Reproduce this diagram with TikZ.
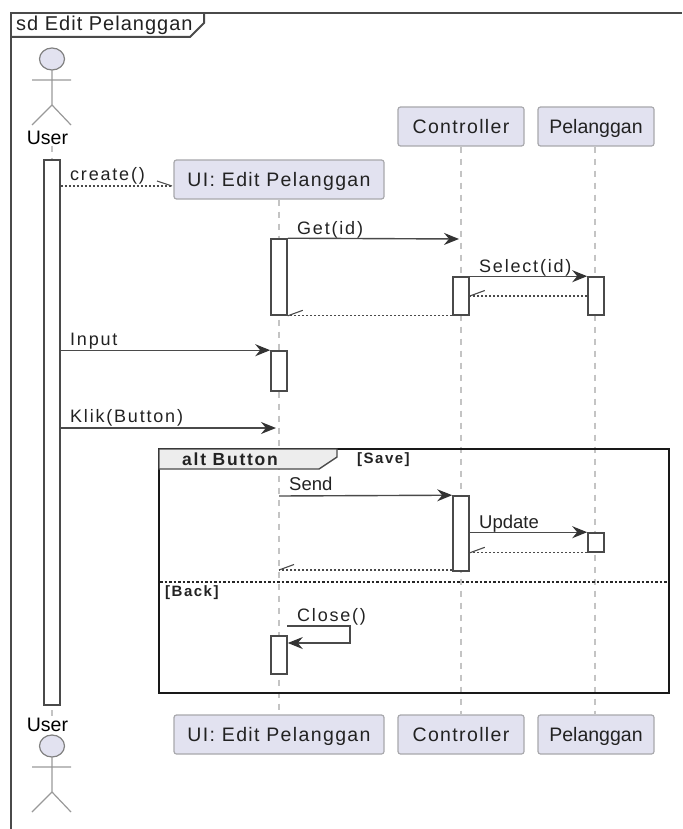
\documentclass[tikz,border=0pt]{standalone}
\usepackage{fontspec}
\setmainfont{Liberation Sans}
\newfontfamily\faceA[LetterSpace=7]{Liberation Sans}
\newfontfamily\faceB[LetterSpace=10]{Liberation Sans}
\newfontfamily\faceC[LetterSpace=5]{Liberation Sans}
\usetikzlibrary{arrows.meta,calc}
\definecolor{partfill}{HTML}{E2E2F0}
\definecolor{partline}{HTML}{A8A8AC}
\definecolor{inkline}{HTML}{4A4A4A}
\definecolor{lifecol}{HTML}{C4C4C4}
\definecolor{txt}{HTML}{222222}
\tikzset{
  x=1pt,y=-1pt,
  part/.style={draw=partline,line width=1.2pt,fill=partfill,rounded corners=2.5pt,text=txt,inner sep=0,minimum height=39pt,text height=17pt,text depth=3pt,font=\fontsize{19.5}{20}\faceA},
  partnarrow/.style={part,font=\fontsize{19.5}{20}\selectfont},
  life/.style={draw=lifecol,line width=1.8pt,dash pattern=on 6pt off 6pt},
  actorline/.style={draw=black!40,line width=1.2pt},
  actorhead/.style={draw=black!50,line width=1.2pt,fill=partfill},
  barbox/.style={draw=inkline,line width=1.6pt,fill=white,minimum width=16pt,inner sep=0},
  msg/.style={draw=inkline,line width=1.4pt,-{Stealth[length=15pt,width=12pt,inset=5pt,color=black!80]}},
  ret/.style={draw=inkline,line width=1.3pt,dash pattern=on 2pt off 2pt},
  tick/.style={draw=inkline,line width=1.1pt},
  lbl/.style={text=txt,inner sep=0,anchor=base west,font=\fontsize{18}{19}\faceB},
  lbln/.style={text=txt,inner sep=0,anchor=base west,font=\fontsize{18.5}{20}\selectfont},
  guard/.style={text=txt,inner sep=0,anchor=base west,font=\fontsize{15}{16}\faceB\bfseries},
  actorname/.style={text=black,inner sep=0,font=\fontsize{19.5}{20}\selectfont}
}
\begin{document}
\begin{tikzpicture}
\useasboundingbox (0,0) rectangle (682,829);
% outer frame
\draw[inkline,line width=2pt] (11,829) -- (11,13) -- (682,13);
\draw[inkline,line width=2pt] (11,37) -- (190,37) -- (204,23) -- (204,13);
\node[anchor=base west,inner sep=0,text=txt,font=\fontsize{20}{21}\faceC] (title) at (16,31) {sd Edit Pelanggan};

% participants
\node[part,minimum width=210pt] (uiT) at (279,179.5) {UI: Edit Pelanggan};
\node[part,minimum width=126pt] (cT) at (461,126.5) {Controller};
\node[partnarrow,minimum width=116pt] (pT) at (596,126.5) {Pelanggan};
\node[part,minimum width=210pt] (uiB) at (279,734.5) {UI: Edit Pelanggan};
\node[part,minimum width=126pt] (cB) at (461,734.5) {Controller};
\node[partnarrow,minimum width=116pt] (pB) at (596,734.5) {Pelanggan};

% lifelines
\coordinate (uT) at (52,146);
\coordinate (uB) at (52,716);
\draw[life] (uT) -- (uB);
\draw[life] (uiT.south) -- (uiB.north);
\draw[life] (cT.south) -- (cB.north);
\draw[life] ([xshift=-1pt]pT.south) -- ([xshift=-1pt]pB.north);

% actors
\node[actorname] (userT) at (47.5,138) {User};
\node[actorname] (userB) at (47.5,725) {User};
\draw[actorhead] (52,59) ellipse [x radius=12.5,y radius=11];
\draw[actorline] (32,80) -- (71,80) (52,70) -- (52,105) (32,125) -- (52,105) -- (71,125);
\draw[actorhead] (52,746) ellipse [x radius=12.5,y radius=11];
\draw[actorline] (32,767) -- (71,767) (52,757) -- (52,792) (32,812) -- (52,792) -- (71,812);

% activation bars
\node[barbox,minimum height=545pt] (uBar) at (52,432.5) {};
\node[barbox,minimum height=76pt] (uiA) at (279,277) {};
\node[barbox,minimum height=38pt] (cA) at (461,296) {};
\node[barbox,minimum height=38pt] (pA) at (596,296) {};
\node[barbox,minimum height=40pt] (uiI) at (279,371) {};

% alt frame
\node[draw=black!90,line width=2.2pt,minimum width=510pt,minimum height=244pt,inner sep=0] (alt) at (414,571) {};
\draw[draw=inkline,line width=1.4pt,fill=black!7] (159,449) -- (337,449) -- (337,457) -- (319,469) -- (159,469) -- cycle;
\node[text=txt,inner sep=0,anchor=base west,font=\fontsize{17.5}{18}\faceB\bfseries] (altL) at (182,465) {alt Button};
\node[guard] (gS) at (357,463) {[Save]};
\coordinate (dL) at (160,582);
\coordinate (dR) at (668,582);
\draw[draw=black!85,line width=1.3pt,dash pattern=on 2.5pt off 2pt] (dL) -- (dR);
\node[guard] (gB) at (165,596) {[Back]};

\node[barbox,minimum height=75pt] (cS) at (461,533.5) {};
\node[barbox,minimum height=19pt] (pS) at (596,542.5) {};
\node[barbox,minimum height=38pt] (uiC) at (279,655) {};

% messages
\coordinate (createEnd) at (172,186);
\draw[ret] (uBar.east |- createEnd) -- (createEnd);
\draw[tick] (createEnd) -- ++(-15,-5);
\node[lbl] (m1) at (70,181) {create()};

\coordinate (getEnd) at (459,239);
\draw[msg] (uiA.north east) -- (getEnd);
\node[lbl] (m2) at (297,234) {Get(id)};

\draw[msg] (cA.north east) -- (pA.north west);
\node[lbl] (m3) at (479,272) {Select(id)};

\draw[ret] (pA.west) -- (cA.east);
\draw[tick] (cA.east) -- ++(15,-5.5);
\draw[ret] (cA.south west) -- (uiA.south east);
\draw[tick] (uiA.south east) -- ++(15,-5.5);

\draw[msg] (uBar.east |- uiI.north) -- (uiI.north west);
\node[lbl] (m4) at (70,345) {Input};

\coordinate (klikEnd) at (276,428);
\draw[msg] (uBar.east |- klikEnd) -- (klikEnd);
\node[lbl] (m5) at (70,422) {Klik(Button)};

\coordinate (sendStart) at (279,496);
\draw[msg] (sendStart) -- (cS.north west);
\node[lbln] (m6) at (289,490) {Send};

\draw[msg] (cS.east |- pS.north) -- (pS.north west);
\node[lbln] (m7) at (479,528) {Update};

\draw[ret] (pS.south west) -- (cS.east |- pS.south);
\draw[tick] (cS.east |- pS.south) -- ++(15,-5.5);

\coordinate (backEnd) at (279,570);
\draw[ret] (cS.west |- backEnd) -- (backEnd);
\draw[tick] (backEnd) -- ++(15,-5.5);

\coordinate (closeA) at (287,626);
\coordinate (closeB) at (350,626);
\coordinate (closeC) at (350,643);
\draw[msg] (closeA) -- (closeB) -- (closeC) -- (uiC.east |- closeC);
\node[lbl] (m8) at (297,621) {Close()};
\end{tikzpicture}
\end{document}
